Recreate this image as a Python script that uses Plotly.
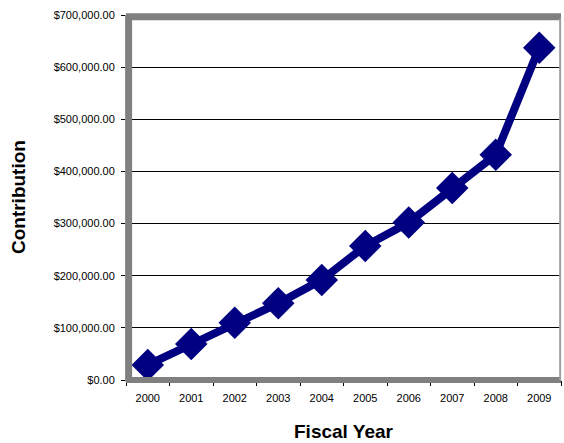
import plotly.graph_objects as go

years = ["2000", "2001", "2002", "2003", "2004", "2005", "2006", "2007", "2008", "2009"]
contribution = [29000, 69000, 110000, 147000, 192000, 257000, 302000, 368000, 432000, 637000]
y_ticks = [0, 100000, 200000, 300000, 400000, 500000, 600000, 700000]

fig = go.Figure()
fig.add_trace(go.Scatter(
    x=years, y=contribution, mode="lines+markers",
    line=dict(color="#000080", width=8),
    marker=dict(symbol="diamond", size=25, color="#000080"),
    showlegend=False,
))

font = "Liberation Sans, Arial, sans-serif"
fig.update_layout(
    width=564, height=443,
    margin=dict(l=126, r=3, t=15, b=63),
    paper_bgcolor="white", plot_bgcolor="white",
    font=dict(family=font, size=11, color="#000000"),
    xaxis=dict(
        type="category", tickson="boundaries", ticks="outside", ticklen=5,
        tickcolor="#000000", showgrid=False, zeroline=False, showline=False,
        tickfont=dict(size=11), range=[-0.5, 9.5], automargin=False,
        ticklabelstandoff=10,
    ),
    yaxis=dict(
        range=[0, 700000], tickvals=y_ticks, tickformat="$,.2f",
        ticks="outside", ticklen=4, tickcolor="#000000",
        showgrid=True, gridcolor="#000000", gridwidth=1,
        zeroline=False, showline=False, tickfont=dict(size=11), automargin=False,
        ticklabelstandoff=4,
    ),
    annotations=[
        dict(text="<b>Fiscal Year</b>", xref="paper", yref="paper", x=0.5, y=-0.14,
             yanchor="middle", xanchor="center", showarrow=False,
             font=dict(size=19, family=font)),
        dict(text="<b>Contribution</b>", xref="paper", yref="paper", x=-0.247, y=0.5,
             xanchor="center", yanchor="middle", textangle=-90, showarrow=False,
             font=dict(size=19, family=font)),
    ],
)

# plot-area walls (Excel style shadowed frame)
fig.add_shape(type="line", xref="paper", yref="paper", x0=0.006, x1=0.006, y0=-0.005, y1=1.0,
              line=dict(color="#808080", width=7), layer="above")
fig.add_shape(type="line", xref="paper", yref="paper", x0=0, x1=1, y0=0.995, y1=0.995,
              line=dict(color="#808080", width=7), layer="above")
fig.add_shape(type="line", xref="paper", yref="paper", x0=0, x1=1, y0=0.0, y1=0.0,
              line=dict(color="#808080", width=6), layer="above")
fig.add_shape(type="line", xref="paper", yref="paper", x0=0.998, x1=0.998, y0=0, y1=0.99,
              line=dict(color="#a0a0a0", width=2), layer="above")

fig.write_html("out.html", config={"displayModeBar": False},
               post_script="document.body.style.margin='0px';document.body.style.overflow='hidden';")
